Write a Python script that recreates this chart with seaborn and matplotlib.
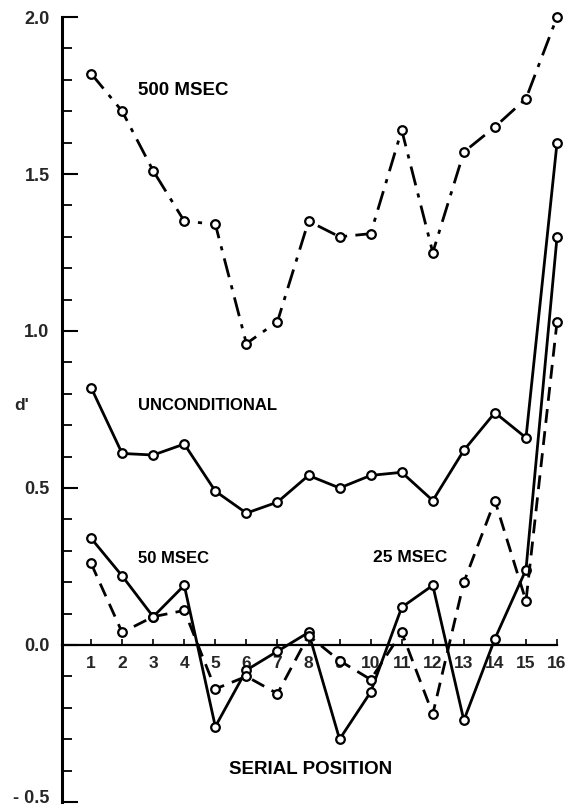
import matplotlib
matplotlib.use("Agg")
import matplotlib.pyplot as plt
import matplotlib.transforms as mtransforms
import seaborn as sns
import pandas as pd
import numpy as np

# ---- data ----
positions = list(range(1, 17))
msec500 = [1.82, 1.70, 1.51, 1.35, 1.34, 0.96, 1.03, 1.35, 1.30, 1.31, 1.64, 1.25, 1.57, 1.65, 1.74, 2.00]
unconditional = [0.82, 0.61, 0.605, 0.64, 0.49, 0.42, 0.455, 0.54, 0.50, 0.54, 0.55, 0.46, 0.62, 0.74, 0.66, 1.60]
msec50 = [0.34, 0.22, 0.09, 0.19, -0.26, -0.08, -0.02, 0.04, -0.30, -0.15, 0.12, 0.19, -0.24, 0.02, 0.24, 1.30]
msec25 = [0.26, 0.04, 0.09, 0.11, -0.14, -0.10, -0.155, 0.03, -0.05, -0.11, 0.04, -0.22, 0.20, 0.46, 0.14, 1.03]
ytick_vals = [-0.5, 0.0, 0.5, 1.0, 1.5, 2.0]
ytick_labels = ["- 0.5", "0.0", "0.5", "1.0", "1.5", "2.0"]
xtick_labels = [str(p) for p in positions]
series_labels = ["500 MSEC", "UNCONDITIONAL", "50 MSEC", "25 MSEC"]

sns.set_theme(style="white")
plt.rcParams["font.family"] = ["Liberation Sans", "DejaVu Sans"]
plt.rcParams["font.weight"] = "bold"

fig = plt.figure(figsize=(5.69, 8.10), dpi=100)
ax = fig.add_axes([0.109, 0.0099, 0.870, 0.9691])

styles = [
    (msec500, (0, (7, 3, 1.5, 3))),
    (unconditional, "-"),
    (msec50, "-"),
    (msec25, (0, (5, 3))),
]
for vals, ls in styles:
    df = pd.DataFrame({"pos": positions, "d": vals})
    sns.lineplot(data=df, x="pos", y="d", ax=ax, color="black",
                 linestyle=ls, linewidth=2.0, marker="o", markersize=6.2,
                 markerfacecolor="white", markeredgecolor="black",
                 markeredgewidth=1.6, clip_on=False, zorder=3)

ax.set_xlim(0.065, 16.0)
ax.set_ylim(-0.5, 2.0)

# spines
for s in ["top", "right"]:
    ax.spines[s].set_visible(False)
ax.spines["left"].set_linewidth(2.2)
ax.spines["left"].set_color("black")
ax.spines["bottom"].set_position(("data", 0))
ax.spines["bottom"].set_linewidth(1.6)
ax.spines["bottom"].set_color("black")

ax.set_yticks(ytick_vals)
ax.set_yticklabels(ytick_labels)
ax.set_yticks(np.arange(-0.5, 2.01, 0.1), minor=True)
ax.tick_params(axis="y", which="major", direction="in", length=11.5, width=1.5,
               color="black", labelsize=13, pad=9, left=True)
ax.tick_params(axis="y", which="minor", direction="in", length=7, width=1.3,
               color="black", left=True)
ax.set_xticks(positions)
ax.set_xticklabels(xtick_labels)
ax.tick_params(axis="x", which="major", direction="in", length=4.5, width=1.2,
               color="black", labelsize=12.5, pad=8, bottom=True)
for lab in ax.get_xticklabels() + ax.get_yticklabels():
    lab.set_fontweight("bold")

# lift the bottom tick label slightly so it is not cut at the figure edge
low_lab = ax.yaxis.get_major_ticks()[0].label1
low_lab.set_transform(low_lab.get_transform() +
                      mtransforms.ScaledTranslation(0, 4 / 72, fig.dpi_scale_trans))

ax.set_xlabel("")
ax.set_ylabel("")
ax.grid(False)

txt = dict(fontweight="bold", color="black", va="center", ha="left")
ax.text(2.51, 1.767, series_labels[0], fontsize=13.5, **txt)
ax.text(2.51, 0.764, series_labels[1], fontsize=12, **txt)
ax.text(2.51, 0.277, series_labels[2], fontsize=12, **txt)
ax.text(10.08, 0.28, series_labels[3], fontsize=12.5, **txt)
ax.text(8.08, -0.398, "SERIAL POSITION", fontsize=13.5, fontweight="bold",
        color="black", va="center", ha="center")
trans = mtransforms.blended_transform_factory(fig.transFigure, ax.transData)
ax.text(22 / 569, 0.764, "d'", transform=trans, fontsize=12.5, fontweight="bold",
        va="center", ha="center")

fig.savefig("out.png", dpi=100)
